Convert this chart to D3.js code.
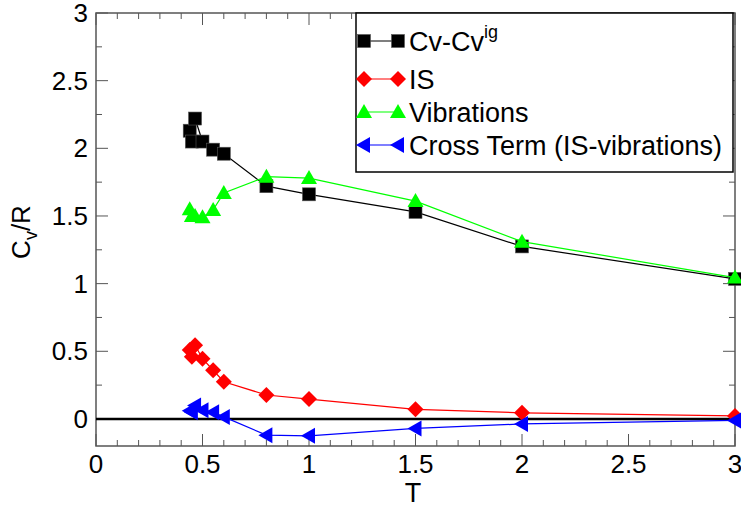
<!DOCTYPE html>
<html lang="en">
<head>
	<meta charset="UTF-8">
	<script src="https://cdn.jsdelivr.net/npm/d3@7"></script>
	<title>Cv/R</title>
	<style>
		body { margin: 0; background: #fff; }
		text { font-family: "Liberation Sans", Arial, sans-serif; }
	</style>
</head>
<body>
<div id="chart"></div>
<script>
	// temperatures
	let T = [0.44, 0.45, 0.465, 0.5, 0.55, 0.6, 0.8, 1.0, 1.5, 2.0, 3.0]

	// series values
	let cvTotal = [2.13, 2.05, 2.22, 2.05, 1.99, 1.96, 1.72, 1.66, 1.53, 1.275, 1.035]
	let cvIS = [0.51, 0.46, 0.545, 0.445, 0.36, 0.275, 0.177, 0.147, 0.071, 0.045, 0.022]
	let cvVib = [1.55, 1.50, 1.50, 1.49, 1.545, 1.67, 1.79, 1.78, 1.61, 1.31, 1.045]
	let cvCross = [0.06, 0.05, 0.10, 0.065, 0.05, 0.015, -0.12, -0.125, -0.07, -0.037, -0.011]

	let xTicks = [0, 0.5, 1, 1.5, 2, 2.5, 3]
	let yTicks = [0, 0.5, 1, 1.5, 2, 2.5, 3]

	let series = [
		{ name: 'Cv-Cv', sup: 'ig', values: cvTotal, color: '#000', sym: 'square' },
		{ name: 'IS', values: cvIS, color: '#f00', sym: 'diamond' },
		{ name: 'Vibrations', values: cvVib, color: '#0f0', sym: 'up' },
		{ name: 'Cross Term (IS-vibrations)', values: cvCross, color: '#00f', sym: 'left' },
	]

	let width = 741, height = 511
	let pL = 96, pR = 735, pT = 13, pB = 446

	let svg = d3.select('#chart').append('svg')
		.attr('width', width)
		.attr('height', height)

	let x = d3.scaleLinear().domain([0, 3]).range([pL, pR])
	let y = d3.scaleLinear().domain([-0.2, 3]).range([pB, pT])

	let axisColor = '#555'
	let fs = 26

	// ticks on all four sides, pointing inward
	function xticks(vals, len) {
		vals.forEach(v => {
			svg.append('line').attr('x1', x(v)).attr('x2', x(v)).attr('y1', pB).attr('y2', pB - len)
				.attr('stroke', axisColor)
			svg.append('line').attr('x1', x(v)).attr('x2', x(v)).attr('y1', pT).attr('y2', pT + len)
				.attr('stroke', axisColor)
		})
	}
	function yticks(vals, len) {
		vals.forEach(v => {
			svg.append('line').attr('y1', y(v)).attr('y2', y(v)).attr('x1', pL).attr('x2', pL + len)
				.attr('stroke', axisColor)
			svg.append('line').attr('y1', y(v)).attr('y2', y(v)).attr('x1', pR).attr('x2', pR - len)
				.attr('stroke', axisColor)
		})
	}
	xticks(xTicks, 12)
	xticks(d3.range(0.1, 3, 0.1).filter(v => Math.abs(v * 2 - Math.round(v * 2)) > 1e-6), 6)
	yticks(yTicks, 12)
	yticks([0.25, 0.75, 1.25, 1.75, 2.25, 2.75], 6)

	svg.append('rect')
		.attr('x', pL).attr('y', pT)
		.attr('width', pR - pL).attr('height', pB - pT)
		.attr('fill', 'none').attr('stroke', axisColor).attr('stroke-width', 1.5)

	// tick labels
	svg.selectAll('.xl').data(xTicks).enter().append('text')
		.attr('x', d => x(d)).attr('y', pB + 27)
		.attr('text-anchor', 'middle').attr('font-size', fs)
		.text(d => d)
	svg.selectAll('.yl').data(yTicks).enter().append('text')
		.attr('x', pL - 8).attr('y', d => y(d) + 9)
		.attr('text-anchor', 'end').attr('font-size', fs)
		.text(d => d)

	svg.append('text').attr('x', 413).attr('y', 502)
		.attr('text-anchor', 'middle').attr('font-size', 27).text('T')

	let yl = svg.append('text')
		.attr('transform', 'translate(30,232) rotate(-90)')
		.attr('text-anchor', 'middle').attr('font-size', fs)
	yl.append('tspan').text('C')
	yl.append('tspan').attr('font-size', 18).attr('dy', 7).text('v')
	yl.append('tspan').attr('dy', -7).text('/R')

	// zero line
	svg.append('line').attr('x1', pL).attr('x2', pR).attr('y1', y(0)).attr('y2', y(0))
		.attr('stroke', '#000').attr('stroke-width', 2.5)

	function symbol(g, s, cx, cy) {
		let p
		if (s.sym === 'square') {
			p = g.append('rect').attr('x', cx - 6.5).attr('y', cy - 6.5).attr('width', 13).attr('height', 13)
				.attr('stroke', '#555').attr('stroke-width', 0.6)
		} else if (s.sym === 'diamond') {
			p = g.append('path').attr('d', `M${cx},${cy - 8}L${cx + 8},${cy}L${cx},${cy + 8}L${cx - 8},${cy}Z`)
		} else if (s.sym === 'up') {
			p = g.append('path').attr('d', `M${cx},${cy - 8}L${cx + 8},${cy + 6}L${cx - 8},${cy + 6}Z`)
		} else {
			p = g.append('path').attr('d', `M${cx - 8},${cy}L${cx + 6},${cy - 8}L${cx + 6},${cy + 8}Z`)
		}
		p.attr('fill', s.color)
	}

	let line = d3.line().x((d, i) => x(T[i])).y(d => y(d))

	// draw series in order so later ones sit on top
	series.forEach(s => {
		let g = svg.append('g')
		g.append('path').attr('d', line(s.values))
			.attr('fill', 'none').attr('stroke', s.color).attr('stroke-width', 1.2)
		s.values.forEach((v, i) => symbol(g, s, x(T[i]), y(v)))
	})

	// legend
	let lg = svg.append('g')
	lg.append('rect').attr('x', 356).attr('y', pT).attr('width', 377).attr('height', 159)
		.attr('fill', '#fff').attr('stroke', '#000').attr('stroke-width', 1.5)
	let rowY = [41, 79, 112, 145]
	series.forEach((s, i) => {
		let cy = rowY[i]
		lg.append('line').attr('x1', 364).attr('x2', 398).attr('y1', cy).attr('y2', cy)
			.attr('stroke', s.color).attr('stroke-width', 1.2)
		symbol(lg, s, 364, cy)
		symbol(lg, s, 398, cy)
		let t = lg.append('text').attr('x', 409).attr('y', cy + 10).attr('font-size', 27)
		t.append('tspan').text(s.name)
		if (s.sup) t.append('tspan').attr('font-size', 18).attr('dy', -13).text(s.sup)
	})
</script>
</body>
</html>
